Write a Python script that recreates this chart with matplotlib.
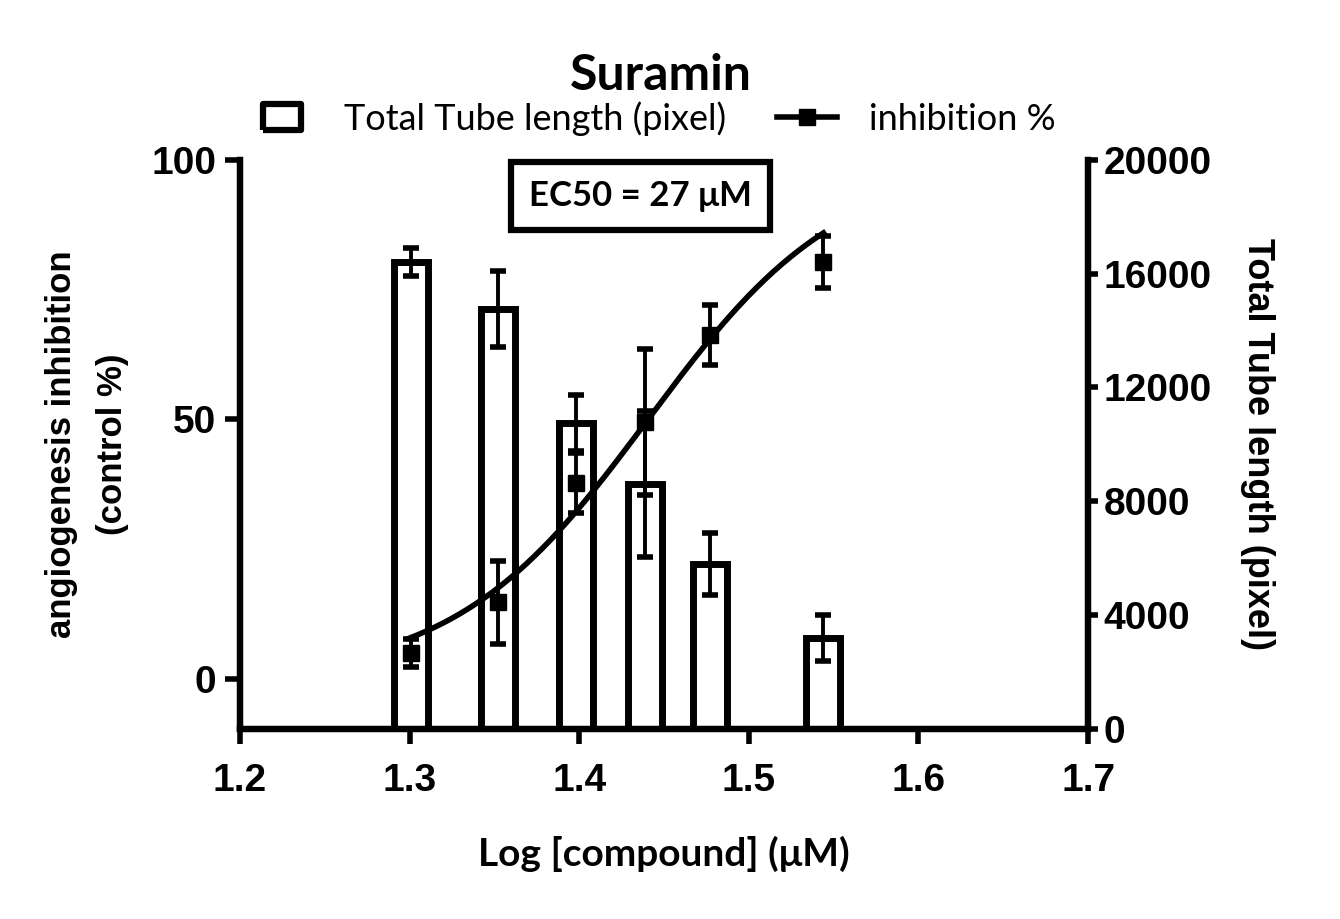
import numpy as np
import matplotlib
matplotlib.use("Agg")
import matplotlib.pyplot as plt
from matplotlib.lines import Line2D

# log concentration (uM)
log_conc = [1.301, 1.352, 1.398, 1.439, 1.477, 1.544]

# total tube length (pixel), right axis
tube_len = [16400, 14750, 10750, 8600, 5800, 3200]
tube_err = [490, 1340, 980, 2560, 1100, 800]

# inhibition %, left axis
inhib = [5.0, 14.8, 37.8, 49.5, 66.3, 80.3]
inhib_err = [2.7, 8.0, 5.8, 14.0, 5.8, 5.0]

# fitted dose-response parameters
log_ec50 = 1.4406
hill = 7.6
fit_lo, fit_hi = 1.3, 1.544

tick_font = "Liberation Sans"
text_font = "Lato"

fig = plt.figure(figsize=(13.4, 9.19), dpi=100)
ax = fig.add_axes([0.179, 0.207, 0.633, 0.619])
ax2 = ax.twinx()
ax.set_zorder(ax2.get_zorder() + 1)
ax.patch.set_visible(False)

### bars on right axis
ax2.bar(log_conc, tube_len, width=0.02, facecolor="white", edgecolor="black",
        linewidth=5)
ax2.errorbar(log_conc, tube_len, yerr=tube_err, fmt="none", ecolor="black",
             elinewidth=2.8, capsize=6, capthick=4)
ax2.set_ylim(0, 20000)
ax2.set_yticks(np.arange(0, 20001, 4000))

### inhibition points + fit on left axis
xf = np.linspace(fit_lo, fit_hi, 200)
yf = 100 / (1 + 10 ** ((log_ec50 - xf) * hill))
ax.plot(xf, yf, color="black", lw=4)
ax.errorbar(log_conc, inhib, yerr=inhib_err, fmt="s", color="black", ms=11,
            elinewidth=2.8, capsize=6, capthick=4)
ax.set_ylim(-9.6, 100)
ax.set_yticks([0, 50, 100])
ax.set_xlim(1.2, 1.7)
ax.set_xticks(np.arange(1.2, 1.71, 0.1))
ax.set_xticklabels([f"{v:.1f}" for v in np.arange(1.2, 1.71, 0.1)])

for a in (ax, ax2):
    a.spines["top"].set_visible(False)
    for s in a.spines.values():
        s.set_linewidth(4.5)
    a.tick_params(width=4, length=11, labelsize=28, pad=6)
    for lab in a.get_xticklabels() + a.get_yticklabels():
        lab.set_fontfamily(tick_font)
        lab.set_fontweight("bold")
ax.tick_params(axis="x", pad=14)
ax2.tick_params(length=7, pad=4)

ax.set_ylabel("angiogenesis inhibition\n(control %)", fontsize=25,
              fontfamily=tick_font, fontweight="bold", labelpad=16,
              linespacing=1.7)
ax2.set_ylabel("Total Tube length (pixel)", fontsize=26, fontfamily=tick_font,
               fontweight="bold", rotation=270, labelpad=46)
ax.set_xlabel("Log [compound] (\u03bcM)", fontsize=28, fontfamily=text_font,
              fontweight="bold", labelpad=26)

fig.suptitle("Suramin", x=0.493, y=0.942, fontsize=36, fontfamily=text_font,
             fontweight="bold")

ax.text(1.436, 93.0, "EC50 = 27 \u03bcM", ha="center", va="center",
        fontsize=25, fontfamily=text_font, fontweight="bold",
        bbox=dict(boxstyle="square,pad=0.52", facecolor="white",
                  edgecolor="black", linewidth=4.5))

# wide open rectangle as the bar legend key
rect = [(-1, -0.68), (1, -0.68), (1, 0.68), (-1, 0.68), (-1, -0.68)]
handles = [Line2D([], [], ls="none", marker=rect, ms=28, mfc="white",
                  mec="black", mew=4.5),
           Line2D([], [], color="black", lw=4, marker="s", ms=11)]
fig.legend(handles, ["Total Tube length (pixel)", "inhibition %"],
           loc="center", bbox_to_anchor=(0.488, 0.871), ncol=2, frameon=False,
           prop={"family": text_font, "size": 26}, handlelength=1.66,
           handletextpad=0.9, columnspacing=1.4)

fig.savefig("out.png", dpi=100)
